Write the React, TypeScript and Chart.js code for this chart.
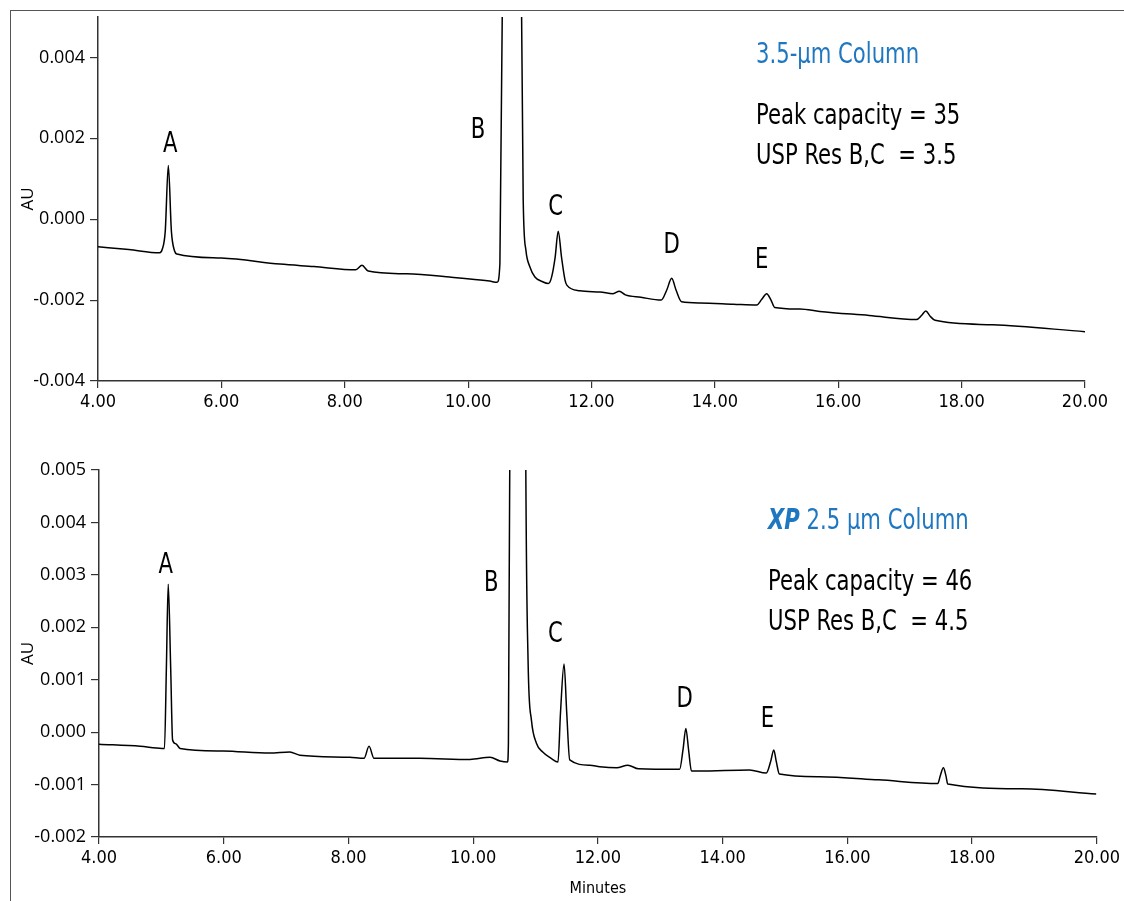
import React, { useEffect, useRef } from "react";
import { Chart, registerables } from "chart.js";

Chart.register(...registerables);

// ---------- data ----------
const X_TICKS = [4, 6, 8, 10, 12, 14, 16, 18, 20];
const TOP_Y_TICKS = [-0.004, -0.002, 0, 0.002, 0.004];
const BOTTOM_Y_TICKS = [-0.002, -0.001, 0, 0.001, 0.002, 0.003, 0.004, 0.005];

// 3.5-µm column trace (minutes, AU)
const TOP_MINUTES = [
  4.0, 4.5, 5.0, 5.04, 5.09, 5.14, 5.19, 5.24, 5.28, 6.0, 6.95, 7.5, 8.18, 8.28, 8.38,
  9.0, 9.7, 10.35, 10.47, 10.515, 10.553, 10.7, 10.867, 10.893, 10.937, 11.002, 11.083,
  11.2, 11.3, 11.35, 11.41, 11.46, 11.515, 11.57, 11.6, 11.81, 12.14, 12.35, 12.45, 12.55,
  12.8, 13.13, 13.22, 13.3, 13.37, 13.46, 13.76, 14.3, 14.68, 14.76, 14.84, 14.91, 14.97,
  15.38, 15.7, 16.5, 17.27, 17.35, 17.42, 17.49, 17.57, 18.5, 20.0,
];
const TOP_AU = [
  -0.00068, -0.00075, -0.00083, -0.00075, -0.0003, 0.00133, -0.0003, -0.00078, -0.00086,
  -0.00096, -0.00111, -0.00117, -0.00125, -0.00114, -0.00128, -0.00135, -0.00143, -0.00153,
  -0.00156, -0.0011, 0.005, 0.06, 0.005, 0.00047, -0.00077, -0.00118, -0.00143, -0.00154,
  -0.00159, -0.00145, -0.00095, -0.0003, -0.00095, -0.0015, -0.00163, -0.00177, -0.0018,
  -0.00184, -0.00178, -0.00187, -0.00193, -0.002, -0.00175, -0.00146, -0.00175, -0.00204,
  -0.00207, -0.0021, -0.00212, -0.00198, -0.00184, -0.002, -0.00218, -0.00222, -0.00228,
  -0.00238, -0.00248, -0.00238, -0.00227, -0.0024, -0.0025, -0.00261, -0.00278,
];

// XP 2.5-µm column trace (minutes, AU)
const BOTTOM_MINUTES = [
  4.0, 4.66, 5.01, 5.05, 5.08, 5.11, 5.15, 5.18, 5.23, 5.3, 5.99, 6.74, 7.06, 7.22, 8.02,
  8.25, 8.33, 8.41, 9.14, 9.95, 10.27, 10.43, 10.55, 10.565, 10.59, 10.72, 10.84, 10.88,
  10.934, 11.014, 11.115, 11.25, 11.36, 11.4, 11.457, 11.5, 11.548, 11.87, 12.03, 12.3,
  12.48, 12.65, 13.31, 13.365, 13.41, 13.455, 13.5, 13.63, 14.43, 14.7, 14.77, 14.82, 14.86,
  14.91, 15.55, 16.5, 17.45, 17.49, 17.54, 17.58, 17.61, 18.8, 19.99,
];
const BOTTOM_AU = [
  -0.00023, -0.00027, -0.00031, -0.00031, 0.0012, 0.00282, 0.0012, -0.00015, -0.00022,
  -0.00031, -0.00036, -0.0004, -0.00038, -0.00044, -0.00048, -0.0005, -0.00027, -0.0005,
  -0.0005, -0.00052, -0.00048, -0.00055, -0.00057, -0.0002, 0.006, 0.06, 0.006, 0.00137,
  0.00023, -0.00021, -0.00038, -0.0005, -0.00057, 0.00037, 0.0013, 0.00037, -0.00053,
  -0.00063, -0.00066, -0.00068, -0.00063, -0.0007, -0.00071, -0.00033, 0.00007, -0.00035,
  -0.00074, -0.00074, -0.00072, -0.00078, -0.00056, -0.00034, -0.00056, -0.0008, -0.00085,
  -0.00091, -0.00098, -0.00083, -0.00068, -0.00083, -0.00099, -0.00108, -0.00118,
];

const PEAK_LETTERS = ["A", "B", "C", "D", "E"];
const TOP_LETTER_MIN = [5.17, 10.16, 11.42, 13.3, 14.76];
const TOP_LETTER_AU = [0.00166, 0.002, 0.0001, -0.00084, -0.00121];
const BOTTOM_LETTER_MIN = [5.07, 10.29, 11.32, 13.39, 14.72];
const BOTTOM_LETTER_AU = [0.00303, 0.00269, 0.00172, 0.00048, 0.0001];

const TOP_TITLE = "3.5-µm Column";
const TOP_STATS = ["Peak capacity = 35", "USP Res B,C  = 3.5"];
const BOTTOM_TITLE_BRAND = "XP";
const BOTTOM_TITLE = " 2.5 µm Column";
const BOTTOM_STATS = ["Peak capacity = 46", "USP Res B,C  = 4.5"];

// ---------- styling ----------
const NARROW = '"Liberation Sans Narrow", "DejaVu Sans Condensed", sans-serif';
const SANS = '"Open Sans", "DejaVu Sans", sans-serif';
const BLUE = "#1f77c0";
const AXIS = "#333";
const SQUEEZE = 0.84;

type Block = {
  titleBrand: string;
  title: string;
  stats: string[];
  x: number;
  titleY: number;
  statY: number[];
};

function squeezedText(ctx: any, text: string, x: number, y: number) {
  ctx.save();
  ctx.translate(x, y);
  ctx.scale(SQUEEZE, 1);
  ctx.fillText(text, 0, 0);
  ctx.restore();
}

function annotationPlugin(letterMin: number[], letterAu: number[], block: Block) {
  return {
    id: "annotations",
    afterDraw(chart: any) {
      const ctx = chart.ctx;
      const xs = chart.scales.x;
      const ys = chart.scales.y;
      ctx.save();
      ctx.fillStyle = "#000";
      ctx.textAlign = "center";
      ctx.textBaseline = "alphabetic";
      ctx.font = `28px ${NARROW}`;
      PEAK_LETTERS.forEach((l, i) => {
        squeezedText(ctx, l, xs.getPixelForValue(letterMin[i]), ys.getPixelForValue(letterAu[i]));
      });
      ctx.textAlign = "left";
      let x = block.x;
      ctx.fillStyle = BLUE;
      if (block.titleBrand) {
        ctx.font = `italic bold 28px ${NARROW}`;
        squeezedText(ctx, block.titleBrand, x, block.titleY);
        x += ctx.measureText(block.titleBrand).width * SQUEEZE;
      }
      ctx.font = `28px ${NARROW}`;
      squeezedText(ctx, block.title, x, block.titleY);
      ctx.fillStyle = "#000";
      block.stats.forEach((s, i) => squeezedText(ctx, s, block.x, block.statY[i]));
      ctx.restore();
    },
  };
}

function makeConfig(p: {
  minutes: number[];
  au: number[];
  yMin: number;
  yMax: number;
  yTicks: number[];
  yWidth: number;
  xHeight: number;
  padding: { left: number; right: number; top: number; bottom: number };
  showXTitle: boolean;
  plugin: any;
}) {
  return {
    type: "line",
    data: {
      datasets: [
        {
          data: p.minutes.map((m, i) => ({ x: m, y: p.au[i] })),
          borderColor: "#000",
          borderWidth: 1.5,
          pointRadius: 0,
          fill: false,
          cubicInterpolationMode: "monotone",
        },
      ],
    },
    options: {
      animation: false,
      responsive: false,
      maintainAspectRatio: false,
      events: [],
      layout: { padding: p.padding },
      plugins: { legend: { display: false }, tooltip: { enabled: false } },
      scales: {
        x: {
          type: "linear",
          min: 4,
          max: 20,
          afterBuildTicks: (s: any) => {
            s.ticks = X_TICKS.map((v) => ({ value: v }));
          },
          afterFit: (s: any) => {
            s.height = p.xHeight;
          },
          grid: { drawOnChartArea: false, tickLength: 7, color: AXIS, lineWidth: 1.2 },
          border: { color: AXIS, width: 1.5 },
          ticks: {
            autoSkip: false,
            maxRotation: 0,
            padding: 4,
            color: "#000",
            font: { family: NARROW, size: 18 },
            callback: (v: any) => Number(v).toFixed(2),
          },
          title: {
            display: p.showXTitle,
            text: "Minutes",
            color: "#000",
            font: { family: NARROW, size: 16 },
            padding: { top: 0, bottom: 3 },
          },
        },
        y: {
          type: "linear",
          min: p.yMin,
          max: p.yMax,
          afterBuildTicks: (s: any) => {
            s.ticks = p.yTicks.map((v) => ({ value: v }));
          },
          afterFit: (s: any) => {
            s.width = p.yWidth;
          },
          grid: { drawOnChartArea: false, tickLength: 8, color: AXIS, lineWidth: 1.2 },
          border: { color: AXIS, width: 1.5 },
          ticks: {
            autoSkip: false,
            padding: 5,
            color: "#000",
            font: { family: SANS, size: 18 },
            callback: (v: any) => Number(v).toFixed(3),
          },
          title: {
            display: true,
            text: "AU",
            color: "#000",
            font: { family: SANS, size: 17 },
            padding: { top: 18, bottom: 0 },
          },
        },
      },
    },
    plugins: [p.plugin],
  };
}

export default function App() {
  const topRef = useRef<HTMLCanvasElement>(null);
  const bottomRef = useRef<HTMLCanvasElement>(null);

  useEffect(() => {
    const top = new Chart(
      topRef.current as HTMLCanvasElement,
      makeConfig({
        minutes: TOP_MINUTES,
        au: TOP_AU,
        yMin: -0.004,
        yMax: 0.005,
        yTicks: TOP_Y_TICKS,
        yWidth: 98,
        xHeight: 40,
        padding: { left: 0, right: 39, top: 17, bottom: 19 },
        showXTitle: false,
        plugin: annotationPlugin(TOP_LETTER_MIN, TOP_LETTER_AU, {
          titleBrand: "",
          title: TOP_TITLE,
          stats: TOP_STATS,
          x: 756,
          titleY: 63,
          statY: [124, 164],
        }),
      }) as any
    );
    const bottom = new Chart(
      bottomRef.current as HTMLCanvasElement,
      makeConfig({
        minutes: BOTTOM_MINUTES,
        au: BOTTOM_AU,
        yMin: -0.002,
        yMax: 0.005,
        yTicks: BOTTOM_Y_TICKS,
        yWidth: 99,
        xHeight: 64,
        padding: { left: 0, right: 27, top: 30, bottom: 0 },
        showXTitle: true,
        plugin: annotationPlugin(BOTTOM_LETTER_MIN, BOTTOM_LETTER_AU, {
          titleBrand: BOTTOM_TITLE_BRAND,
          title: BOTTOM_TITLE,
          stats: BOTTOM_STATS,
          x: 768,
          titleY: 529 - 440,
          statY: [590 - 440, 630 - 440],
        }),
      }) as any
    );
    return () => {
      top.destroy();
      bottom.destroy();
    };
  }, []);

  return (
    <div
      style={{
        position: "absolute",
        left: 0,
        top: 0,
        width: 1124,
        height: 901,
        background: "#fff",
        overflow: "hidden",
      }}
    >
      <div
        style={{
          position: "absolute",
          left: 10,
          top: 10,
          width: 1124,
          height: 901,
          borderTop: "1.5px solid #555",
          borderLeft: "1.5px solid #555",
        }}
      />
      <canvas
        ref={topRef}
        width={1124}
        height={440}
        style={{ position: "absolute", left: 0, top: 0, display: "block" }}
      />
      <canvas
        ref={bottomRef}
        width={1124}
        height={461}
        style={{ position: "absolute", left: 0, top: 440, display: "block" }}
      />
    </div>
  );
}
